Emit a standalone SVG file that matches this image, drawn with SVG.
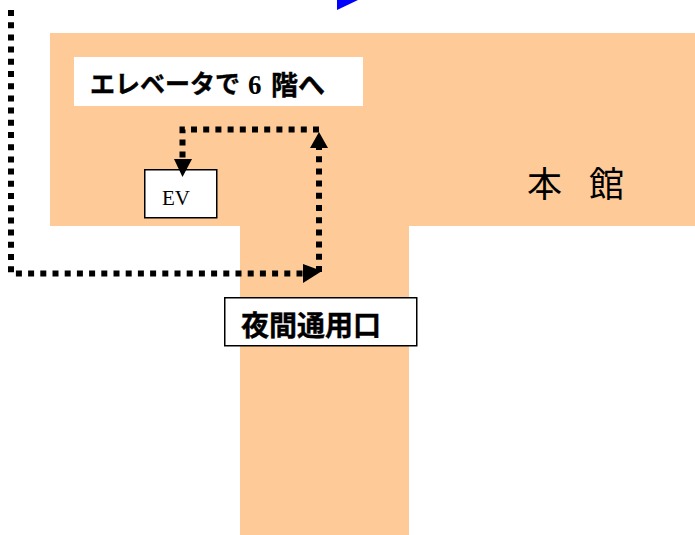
<svg xmlns="http://www.w3.org/2000/svg" width="695" height="535" viewBox="0 0 695 535">
<style>
.jp{font-family:"Noto Sans CJK JP","Liberation Sans",sans-serif;fill:#000}
.b{font-weight:700;stroke:#000;stroke-width:.4}
.dot{fill:none;stroke:#000;stroke-width:6;stroke-dasharray:6 6.2}
.head{fill:#000}
</style>
<rect width="695" height="535" fill="#fff"/>
<g id="building">
<path d="M50 33H695V226H409V535H240V226H50Z" fill="#fecb98"/>
<text class="jp" x="527" y="197" font-size="35">本</text>
<text class="jp" x="589" y="197" font-size="35">館</text>
</g>
<g id="label-elevator">
<rect x="74" y="57" width="289" height="49" fill="#fff"/>
<text class="jp b" x="90" y="93" font-size="25" textLength="150" lengthAdjust="spacingAndGlyphs">エレベータで</text>
<text x="248" y="94" font-family="Liberation Serif,serif" font-weight="700" font-size="27" fill="#000">6</text>
<text class="jp b" x="271" y="95" font-size="27">階へ</text>
</g>
<g id="ev">
<rect x="144.750" y="169.750" width="72" height="48" fill="#fff" stroke="#000" stroke-width="1.500"/>
<text x="162" y="205" font-family="Liberation Serif,serif" font-size="21" fill="#000">EV</text>
</g>
<g id="label-night">
<rect x="224.750" y="297.750" width="192" height="48" fill="#fff" stroke="#000" stroke-width="1.500"/>
<text class="jp b" x="241" y="336" font-size="28">夜間通用口</text>
</g>
<g id="connectors">
<path class="dot" d="M11 10V273.500H305"/>
<path class="dot" d="M319 272V146"/>
<path class="dot" d="M319 129.500H182.500V160"/>
<polygon class="head" points="322,271 303,264 303,283"/>
<polygon class="head" points="319,132 310,148 328,148"/>
<polygon class="head" points="182.500,177 174,159 192,159"/>
<polygon points="337,10 337,0 358,0" fill="#0000ff"/>
</g>
</svg>
